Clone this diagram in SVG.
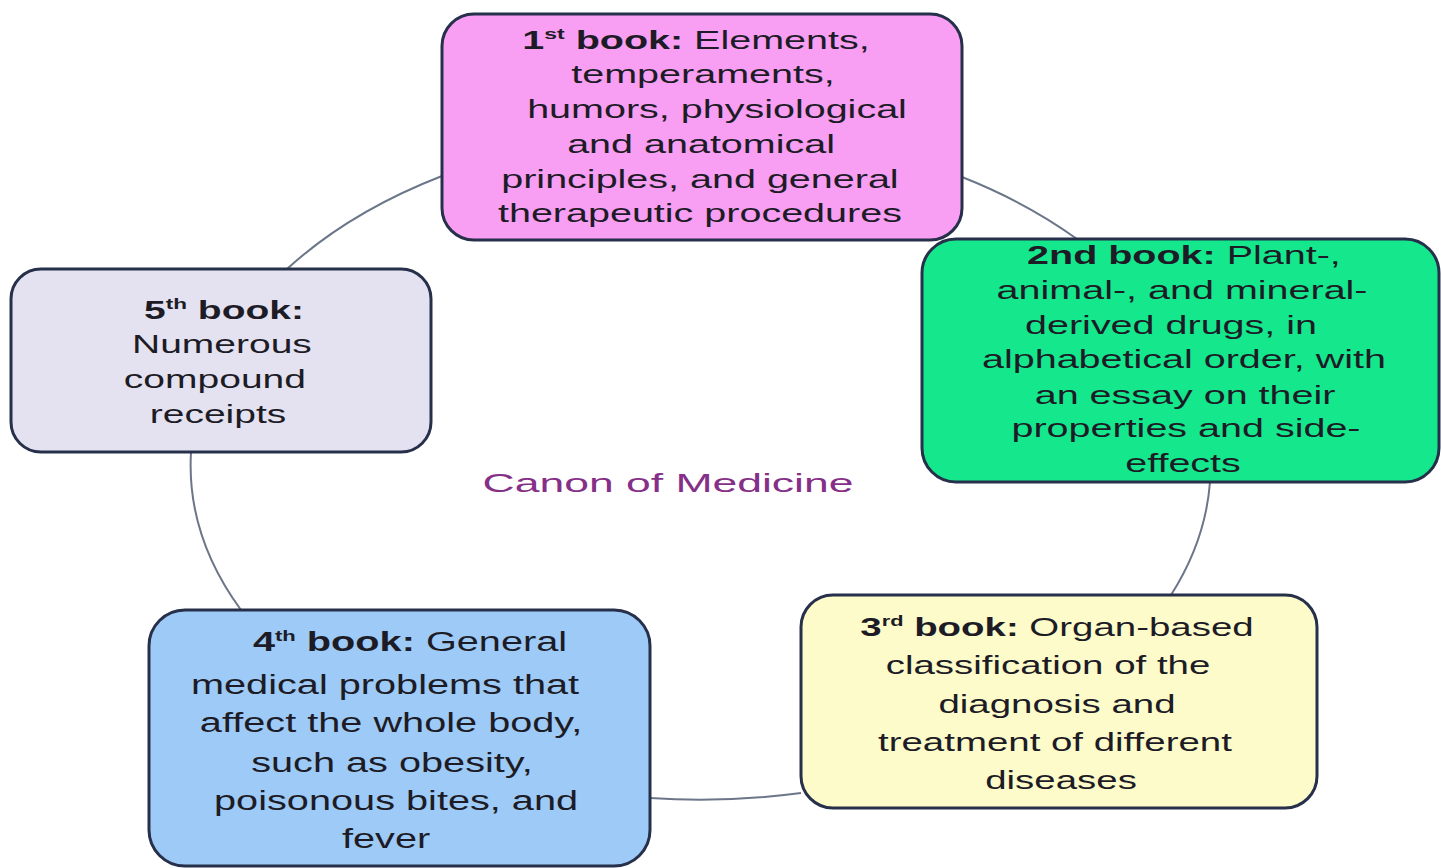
<svg xmlns="http://www.w3.org/2000/svg" width="1441" height="868" viewBox="0 0 1441 868">
<style>
  .box { stroke: #27304a; stroke-width: 3; }
  .t { font-family: "Liberation Sans", Arial, sans-serif; fill: #1d1c26; text-anchor: middle; }
  .b { font-weight: bold; }
  .conn { fill: none; stroke: #6b7689; stroke-width: 2; }
  .title { font-family: "Liberation Sans", Arial, sans-serif; fill: #852f88; text-anchor: middle; font-size: 25px; }
</style>
<rect x="0" y="0" width="1441" height="868" fill="#ffffff"/>
<g id="connectors">
  <path class="conn" d="M962,177 A510,335 0 0 1 1077,239"/>
  <path class="conn" d="M1210,482 A510,335 0 0 1 1171,595"/>
  <path class="conn" d="M801,793 A510,335 0 0 1 650,798"/>
  <path class="conn" d="M241,610 A510,335 0 0 1 191,452"/>
  <path class="conn" d="M287,269 A510,335 0 0 1 442,176"/>
</g>
<g id="center-label">
  <text class="title" transform="translate(668,0) scale(1.78,1)" x="0" y="492">Canon of Medicine</text>
</g>
<g id="book1">
  <rect class="box" x="442" y="14" width="520" height="226" rx="32" fill="#f89ff4"/>
  <g transform="translate(702,0) scale(1.58,1)" class="t" font-size="25">
    <text x="-3.8" y="49"><tspan class="b">1</tspan><tspan class="b" font-size="14.5" dy="-9.5">st</tspan><tspan class="b" dy="9.5"> book:</tspan> Elements,</text>
    <text x="0.6" y="83">temperaments,</text>
    <text x="9.5" y="118">humors, physiological</text>
    <text x="-0.6" y="153">and anatomical</text>
    <text x="-1.3" y="188">principles, and general</text>
    <text x="-1.3" y="222">therapeutic procedures</text>
  </g>
</g>
<g id="book2">
  <rect class="box" x="922" y="239" width="517" height="243" rx="34" fill="#15e78d"/>
  <g transform="translate(1180,0) scale(1.58,1)" class="t" font-size="25">
    <text x="2.5" y="264"><tspan class="b">2nd book:</tspan> Plant-,</text>
    <text x="1.3" y="299">animal-, and mineral-</text>
    <text x="-5.7" y="334">derived drugs, in</text>
    <text x="2.5" y="368">alphabetical order, with</text>
    <text x="3.2" y="404">an essay on their</text>
    <text x="3.8" y="437">properties and side-</text>
    <text x="1.9" y="472">effects</text>
  </g>
</g>
<g id="book3">
  <rect class="box" x="801" y="595" width="516" height="213" rx="32" fill="#fcfbc9"/>
  <g transform="translate(1059,0) scale(1.45,1)" class="t" font-size="26.5">
    <text x="-1.4" y="636"><tspan class="b">3</tspan><tspan class="b" font-size="15" dy="-10">rd</tspan><tspan class="b" dy="10"> book:</tspan> Organ-based</text>
    <text x="-7.6" y="674">classification of the</text>
    <text x="-1.4" y="713">diagnosis and</text>
    <text x="-2.8" y="751">treatment of different</text>
    <text x="1.4" y="789">diseases</text>
  </g>
</g>
<g id="book4">
  <rect class="box" x="149" y="610" width="501" height="256" rx="36" fill="#9dcaf6"/>
  <g transform="translate(399,0) scale(1.47,1)" class="t" font-size="27">
    <text x="7.5" y="651"><tspan class="b">4</tspan><tspan class="b" font-size="15" dy="-10">th</tspan><tspan class="b" dy="10"> book:</tspan> General</text>
    <text x="-9.5" y="694">medical problems that</text>
    <text x="-5.4" y="732">affect the whole body,</text>
    <text x="-4.8" y="772">such as obesity,</text>
    <text x="-2" y="810">poisonous bites, and</text>
    <text x="-8.8" y="848">fever</text>
  </g>
</g>
<g id="book5">
  <rect class="box" x="11" y="269" width="420" height="183" rx="30" fill="#e4e2f0"/>
  <g transform="translate(221,0) scale(1.56,1)" class="t" font-size="25">
    <text x="1.9" y="319"><tspan class="b">5</tspan><tspan class="b" font-size="14.5" dy="-9.5">th</tspan><tspan class="b" dy="9.5"> book:</tspan></text>
    <text x="0.6" y="353">Numerous</text>
    <text x="-3.9" y="388">compound</text>
    <text x="-1.9" y="423">receipts</text>
  </g>
</g>
</svg>
